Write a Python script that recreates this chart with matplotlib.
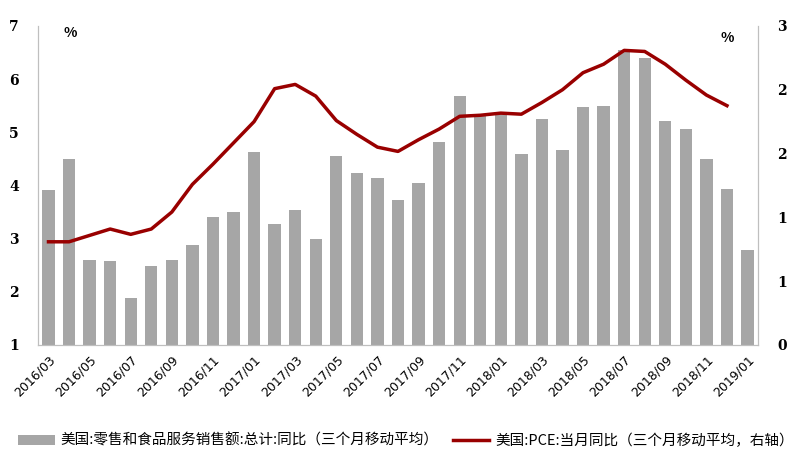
#!/usr/bin/env python3

import matplotlib

matplotlib.use('Agg')
import matplotlib.pyplot as plt
import numpy as np


plt.rcParams['font.family'] = ['Noto Sans CJK SC', 'DejaVu Sans']

MONTHS = [
    '2016/03', '2016/04', '2016/05', '2016/06', '2016/07', '2016/08', '2016/09',
    '2016/10', '2016/11', '2016/12', '2017/01', '2017/02', '2017/03', '2017/04',
    '2017/05', '2017/06', '2017/07', '2017/08', '2017/09', '2017/10', '2017/11',
    '2017/12', '2018/01', '2018/02', '2018/03', '2018/04', '2018/05', '2018/06',
    '2018/07', '2018/08', '2018/09', '2018/10', '2018/11', '2018/12', '2019/01',
]

# left axis: retail and food services sales, yoy (3m avg)
RETAIL_YOY = [
    3.92, 4.50, 2.60, 2.58, 1.88, 2.48, 2.60, 2.88, 3.40, 3.50, 4.63, 3.27,
    3.53, 3.00, 4.55, 4.23, 4.14, 3.72, 4.05, 4.82, 5.68, 5.35, 5.35, 4.60,
    5.25, 4.66, 5.47, 5.50, 6.55, 6.40, 5.22, 5.06, 4.50, 3.93, 2.78,
]

# right axis: PCE yoy (3m avg), no value for 2019/01
PCE_YOY = [
    0.97, 0.97, 1.03, 1.09, 1.04, 1.09, 1.25, 1.51, 1.70, 1.90, 2.10, 2.41,
    2.45, 2.34, 2.11, 1.98, 1.86, 1.82, 1.93, 2.03, 2.15, 2.16, 2.18, 2.17,
    2.28, 2.40, 2.56, 2.64, 2.77, 2.76, 2.64, 2.49, 2.35, 2.25, np.nan,
]

RETAIL_LABEL = '美国:零售和食品服务销售额:总计:同比（三个月移动平均）'
PCE_LABEL = '美国:PCE:当月同比（三个月移动平均，右轴）'

BAR_COLOR = '#A6A6A6'
LINE_COLOR = '#990000'
SPINE_COLOR = '#BFBFBF'


def main():
    fig = plt.figure(figsize=(7.96, 4.63), dpi=100)
    ax = fig.add_axes([0.048, 0.255, 0.904, 0.689])
    ax2 = ax.twinx()

    x = np.arange(len(MONTHS))
    bars = ax.bar(x, [v - 1 for v in RETAIL_YOY], bottom=1, width=0.6,
                  color=BAR_COLOR, label=RETAIL_LABEL, zorder=2)
    line, = ax2.plot(x, PCE_YOY, color=LINE_COLOR, linewidth=2.5,
                     label=PCE_LABEL, zorder=3)

    ax.set_xlim(-0.5, len(MONTHS) - 0.5)
    ax.set_ylim(1, 7)
    ax.set_yticks(range(1, 8))
    ax2.set_ylim(0, 3)
    right_ticks = np.linspace(0, 3, 6)
    ax2.set_yticks(right_ticks)
    ax2.set_yticklabels([f'{t:.0f}' for t in right_ticks])

    ax.set_xticks(x[::2])
    ax.set_xticklabels(MONTHS[::2], rotation=45, ha='right', va='top',
                       rotation_mode='anchor', fontsize=9,
                       family=['DejaVu Sans'])

    for a in (ax, ax2):
        a.tick_params(length=0)
        a.spines['top'].set_visible(False)
        for side in ('left', 'right', 'bottom'):
            a.spines[side].set_color(SPINE_COLOR)
    ax.tick_params(axis='y', pad=14)
    ax.tick_params(axis='x', pad=6)
    ax2.tick_params(axis='y', pad=14)
    for lab in ax.get_yticklabels() + ax2.get_yticklabels():
        lab.set_fontweight('bold')
        lab.set_fontsize(10)
        lab.set_family(['DejaVu Serif'])

    ax.text(0.045, 1.0, '%', transform=ax.transAxes, fontsize=10,
            fontweight='bold', ha='center', va='top')
    ax.text(0.957, 0.985, '%', transform=ax.transAxes, fontsize=10,
            fontweight='bold', ha='center', va='top')

    fig.legend([bars, line], [RETAIL_LABEL, PCE_LABEL], loc='center',
               bbox_to_anchor=(0.51, 0.048), ncol=2, frameon=False,
               fontsize=10.5, handlelength=2.5, handletextpad=0.4,
               columnspacing=1.0)

    fig.savefig('out.png', dpi=100)
    plt.close(fig)


if __name__ == '__main__':
    main()
